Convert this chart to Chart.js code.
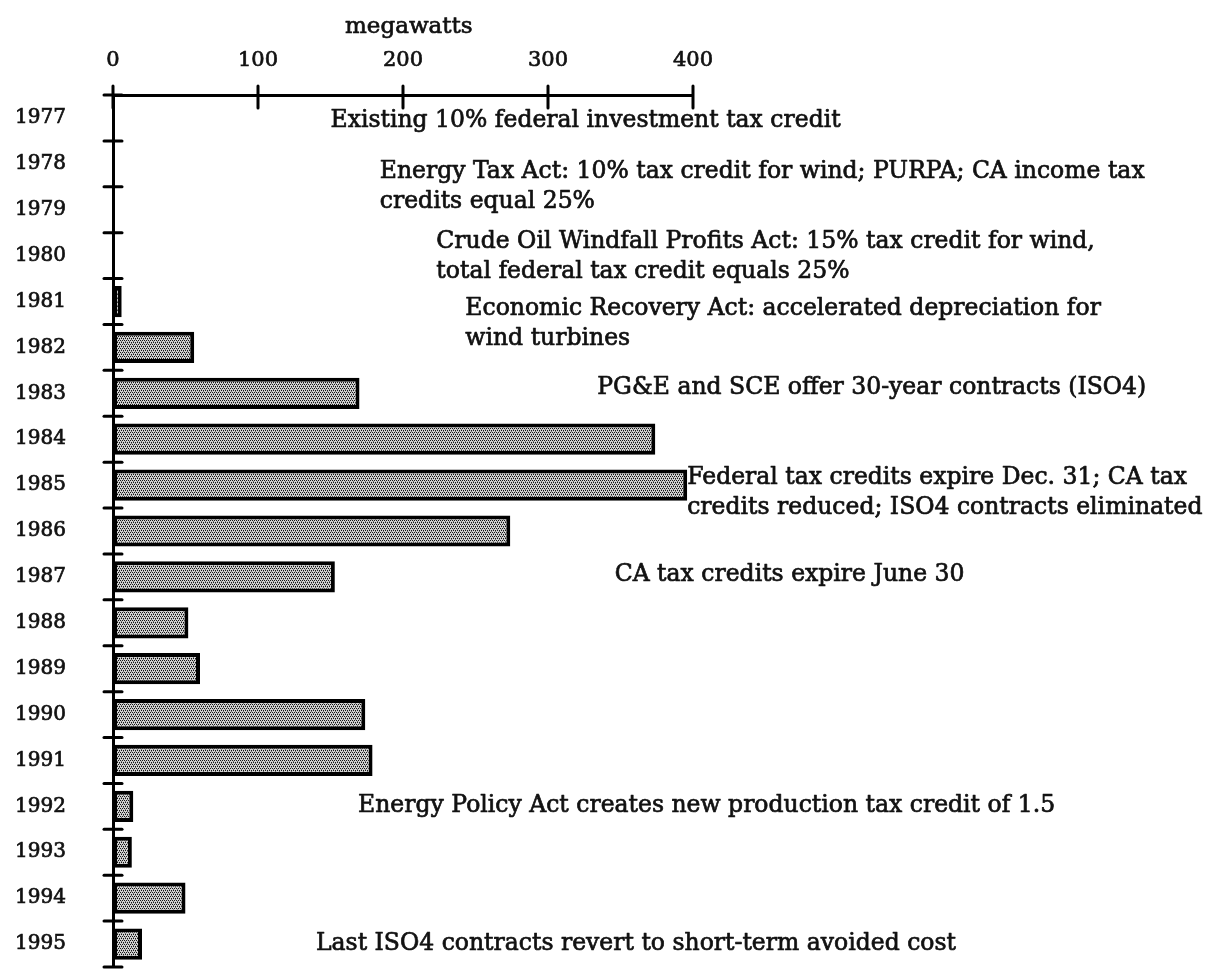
<!DOCTYPE html>
<html>
<head>
<meta charset="utf-8">
<script src="https://cdn.jsdelivr.net/npm/chart.js@4.4.1/dist/chart.umd.min.js"></script>
<style>
  html, body { margin: 0; padding: 0; background: #ffffff; }
  #wrap { width: 1207px; height: 979px; position: relative; }
</style>
</head>
<body>
<div id="wrap"><canvas id="c"></canvas></div>
<script>
// ---- data ----
const years = ['1977','1978','1979','1980','1981','1982','1983','1984','1985','1986',
               '1987','1988','1989','1990','1991','1992','1993','1994','1995'];
const megawatts = [0, 0, 0, 0, 6, 56, 170, 374, 396, 274, 153, 52, 60, 174, 179, 14, 13, 50, 20];
const xTickValues = [0, 100, 200, 300, 400];
const axisTitle = 'megawatts';

// ---- annotation texts ----
const noteText = [
  ['Existing 10% federal investment tax credit'],
  ['Energy Tax Act: 10% tax credit for wind; PURPA; CA income tax', 'credits equal 25%'],
  ['Crude Oil Windfall Profits Act: 15% tax credit for wind,', 'total federal tax credit equals 25%'],
  ['Economic Recovery Act: accelerated depreciation for', 'wind turbines'],
  ['PG&E and SCE offer 30-year contracts (ISO4)'],
  ['Federal tax credits expire Dec. 31; CA tax', 'credits reduced; ISO4 contracts eliminated'],
  ['CA tax credits expire June 30'],
  ['Energy Policy Act creates new production tax credit of 1.5'],
  ['Last ISO4 contracts revert to short-term avoided cost']
];
// anchors in data space (category index, megawatts)
const noteRow = [0.07, 1.5, 3.02, 4.49, 5.88, 8.16, 9.96, 15.0, 18.0];
const noteMW  = [150, 184, 223, 243, 334, 396, 346, 169, 140];
const titleMW = 204;

// ---- styles ----
const FONT = '"DejaVu Serif", "Liberation Serif", serif';
const INK = '#111111';

function makePattern() {
  const t = document.createElement('canvas');
  t.width = 4; t.height = 4;
  const g = t.getContext('2d');
  g.fillStyle = '#d2d2d2';
  g.fillRect(0, 0, 4, 4);
  g.fillStyle = '#151515';
  g.fillRect(0, 0, 1, 1);
  g.fillRect(2, 0, 1, 1);
  g.fillRect(1, 2, 1, 1);
  g.fillRect(3, 2, 1, 1);
  g.fillStyle = '#707070';
  g.fillRect(1, 1, 1, 1);
  g.fillRect(3, 3, 1, 1);
  return document.getElementById('c').getContext('2d').createPattern(t, 'repeat');
}

function inkText(ctx, t, x, y) {
  ctx.strokeText(t, x, y);
  ctx.fillText(t, x, y);
}

const decor = {
  id: 'decor',
  afterDraw(chart) {
    const { ctx, chartArea, scales: { x, y } } = chart;
    ctx.save();
    ctx.strokeStyle = '#000';
    ctx.lineWidth = 3;
    ctx.lineCap = 'round';
    xTickValues.forEach(v => {
      const px = x.getPixelForValue(v);
      ctx.beginPath();
      ctx.moveTo(px, chartArea.top - 9);
      ctx.lineTo(px, chartArea.top + 13);
      ctx.stroke();
    });
    for (let i = 0; i <= years.length; i++) {
      const py = y.getPixelForValue(i - 0.5);
      ctx.beginPath();
      ctx.moveTo(chartArea.left - 9, py);
      ctx.lineTo(chartArea.left + 9, py);
      ctx.stroke();
    }
    ctx.fillStyle = INK;
    ctx.strokeStyle = INK;
    ctx.lineWidth = 0.7;
    ctx.lineJoin = 'round';
    ctx.textBaseline = 'middle';
    // axis title
    ctx.font = '23px ' + FONT;
    ctx.textAlign = 'center';
    inkText(ctx, axisTitle, x.getPixelForValue(titleMW), 27);
    // annotations
    ctx.font = '23.5px ' + FONT;
    ctx.textAlign = 'left';
    const lh = 30;
    noteText.forEach((lines, k) => {
      const px = x.getPixelForValue(noteMW[k]);
      const cy = y.getPixelForValue(noteRow[k]);
      lines.forEach((t, j) => {
        inkText(ctx, t, px, cy + (j - (lines.length - 1) / 2) * lh);
      });
    });
    ctx.restore();
  }
};

new Chart(document.getElementById('c'), {
  type: 'bar',
  data: {
    labels: years,
    datasets: [{
      data: megawatts,
      backgroundColor: makePattern(),
      borderColor: '#000',
      borderWidth: ctx => (ctx.raw > 0 ? 4 : 0),
      borderSkipped: false,
      barPercentage: 0.68,
      categoryPercentage: 1.0
    }]
  },
  options: {
    indexAxis: 'y',
    responsive: true,
    maintainAspectRatio: false,
    animation: false,
    layout: { padding: { left: 15, right: 514, top: 0, bottom: 12 } },
    plugins: { legend: { display: false }, tooltip: { enabled: false } },
    scales: {
      x: {
        type: 'linear',
        position: 'top',
        min: 0,
        max: 400,
        afterBuildTicks: s => { s.ticks = xTickValues.map(v => ({ value: v })); },
        afterFit: s => { s.height = 95; },
        ticks: { font: { family: FONT, size: 21 }, color: INK, padding: 22, maxRotation: 0,
                 textStrokeColor: INK, textStrokeWidth: 0.7 },
        grid: { display: false, drawTicks: false },
        border: { display: true, color: '#000', width: 3 }
      },
      y: {
        type: 'category',
        offset: true,
        afterFit: s => { s.width = 98; },
        ticks: { font: { family: FONT, size: 20 }, color: INK, crossAlign: 'far', padding: 0,
                 textStrokeColor: INK, textStrokeWidth: 0.7 },
        grid: { display: false, drawTicks: false },
        border: { display: true, color: '#000', width: 3 }
      }
    }
  },
  plugins: [decor]
});
</script>
</body>
</html>
